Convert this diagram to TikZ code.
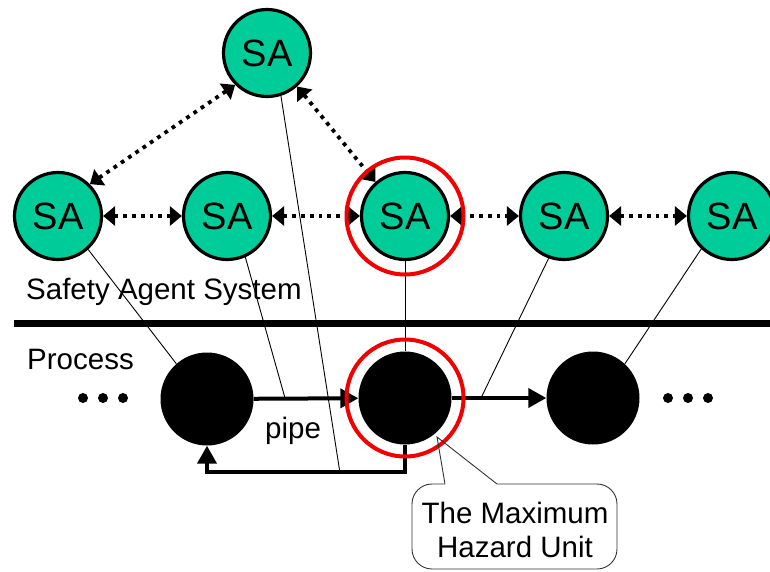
\documentclass[tikz,border=0pt]{standalone}
\usepackage{fontspec}
\setmainfont{Liberation Sans}
\usetikzlibrary{arrows.meta}
\definecolor{sagreen}{RGB}{0,204,153}
\definecolor{hazred}{RGB}{240,0,0}
\begin{document}
\begin{tikzpicture}[x=1pt,y=-1pt,
  sa/.style={circle, draw=black, line width=3.2pt, fill=sagreen, minimum size=87pt, inner sep=0pt, font=\fontsize{38}{40}\selectfont},
  unit/.style={circle, fill=black, minimum size=93pt, inner sep=0pt},
  link/.style={line width=3.8pt, dash pattern=on 3.8pt off 5pt, {Triangle[length=12pt,width=19pt]}-{Triangle[length=12pt,width=19pt]}},
  wire/.style={line width=0.9pt},
  flow/.style={line width=4pt, -{Triangle[length=18pt,width=19pt]}},
  hazard/.style={draw=hazred, line width=4pt},
  lbl/.style={font=\fontsize{29.5}{34}\selectfont, inner sep=0pt},
  dotnode/.style={circle, fill=black, minimum size=10pt, inner sep=0pt},
  callout/.style={line width=0.9pt, draw=black!80}
]
\useasboundingbox (0,0) rectangle (770,571);
\clip (0,0) rectangle (770,571);

% agents
\node[sa] (top) at (267,53) {SA};
\node[sa] (s1) at (58,216) {SA};
\node[sa] (s2) at (227,216) {SA};
\node[sa] (s3) at (405,216) {SA};
\node[sa] (s4) at (564,216) {SA};
\node[sa] (s5) at (732,216) {SA};

% process units
\node[unit] (p1) at (207,399) {};
\node[unit] (p2) at (405,398) {};
\node[unit] (p3) at (593,398) {};

% dots
\node[dotnode] (l1) at (83,398) {};
\node[dotnode] (l2) at (103,398) {};
\node[dotnode] (l3) at (123,398) {};
\node[dotnode] (r1) at (668,398) {};
\node[dotnode] (r2) at (688,398) {};
\node[dotnode] (r3) at (708,398) {};

% labels
\node[lbl, anchor=base west] (sas) at (26,299) {Safety Agent System};
\node[lbl, anchor=base west] (proc) at (27,369) {Process};
\node[lbl, anchor=base west] (pipe) at (265,438) {pipe};

% connection points
\coordinate (pp1) at (285,398);
\coordinate (pp2) at (481,398);
\coordinate (fbx) at (340,473);
\coordinate (sepL) at (14,323);
\coordinate (sepR) at (775,323);

% wires from agents to process
\draw[wire] (s1.312) -- (p1.131);
\draw[wire] (s2.294) -- (pp1);
\draw[wire] (top.288) -- (fbx);
\draw[wire] (s3) -- (p2);
\draw[wire] (s4.250) -- (pp2);
\draw[wire] (s5.227) -- (p3.47);

% separator
\draw[line width=7pt] (sepL) -- (sepR);

% process flow
\draw[flow] (p1) -- (p2);
\draw[flow] (p2) -- (p3);
\draw[flow] (p2.south) -- ++(0,27) -| (p1.south);

% agent links
\draw[link] (s1) -- (s2);
\draw[link] (s2) -- (s3);
\draw[link] (s3) -- (s4);
\draw[link] (s4) -- (s5);
\draw[link] (s1.45) -- (top.225);
\draw[link] (top.312) -- (s3.131);

% hazard rings
\draw[hazard] (s3) circle (58.5);
\draw[hazard] (p2) circle (58.5);

% callout
\coordinate (tip) at (437,437);
\coordinate (ca) at (445,484);
\coordinate (cb) at (497,484);
\draw[callout] (ca) -- (tip) -- (cb);
\draw[callout, rounded corners=20pt] (cb) -- (617,484) -- (617,569) -- (412,569) -- (412,484) -- (ca);
\node[lbl, anchor=base] (hz1) at (515,523) {The Maximum};
\node[lbl, anchor=base] (hz2) at (515,557) {Hazard Unit};
\end{tikzpicture}
\end{document}
